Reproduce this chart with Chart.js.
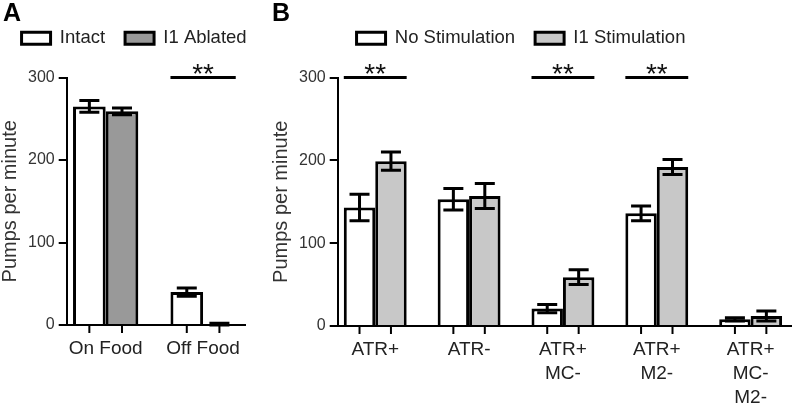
<!DOCTYPE html>
<html>
<head>
<meta charset="utf-8">
<script src="https://cdn.jsdelivr.net/npm/chart.js@4.4.1/dist/chart.umd.min.js"></script>
<style>
    body {margin: 0; background: #fff; width: 800px; height: 403px; position: relative; overflow: hidden; font-family: "Liberation Sans", Arial, sans-serif;}
    .panel {position: absolute; top: 0; height: 403px;}
    #panelA {left: 0; width: 250px;}
    #panelB {left: 271px; width: 529px;}
    .letter {position: absolute; top: 0; font-size: 25px; font-weight: bold; line-height: 1; color: #000;}
</style>
</head>
<body>
<div class="panel" id="panelA"><canvas id="chartA"></canvas></div>
<div class="panel" id="panelB"><canvas id="chartB"></canvas></div>
<div class="letter" style="left:3px">A</div>
<div class="letter" style="left:272px">B</div>
<script>
// panel A
const foodCategories = ['On Food', 'Off Food'];
const intactMeans = [265, 40];
const intactErrors = [7, 5];
const ablatedMeans = [259, 1];
const ablatedErrors = [4, 1];
const foodSignificant = [1];

// panel B
const stimCategories = ['ATR+', 'ATR-', ['ATR+', 'MC-'], ['ATR+', 'M2-'], ['ATR+', 'MC-', 'M2-']];
const noStimMeans = [143, 153, 21, 136, 8];
const noStimErrors = [16, 13, 5, 9, 2];
const stimMeans = [199, 157, 59, 192, 12];
const stimErrors = [11, 15, 9, 9, 6];
const stimSignificant = [0, 2, 3];

const yTicks = [0, 100, 200, 300];
const sigLevel = 300;

const FONT = '"Liberation Sans", Arial, sans-serif';

const toPoints = values => values.map((y, x) => ({x, y}));

// error bars, tick marks under each bar, significance lines
const barExtras = {
    id: 'barExtras',
    afterDatasetsDraw(chart) {
        const {ctx, chartArea, scales: {y}} = chart;
        ctx.save();
        ctx.strokeStyle = '#000';
        chart.data.datasets.forEach((ds, i) => {
            chart.getDatasetMeta(i).data.forEach((bar, j) => {
                const v = ds.data[j].y;
                const err = ds.errors[j];
                const top = y.getPixelForValue(v + err);
                const bottom = y.getPixelForValue(Math.max(v - err, 0));
                ctx.lineWidth = 3;
                ctx.beginPath();
                ctx.moveTo(bar.x, top);
                ctx.lineTo(bar.x, bottom);
                ctx.moveTo(bar.x - 10, top);
                ctx.lineTo(bar.x + 10, top);
                ctx.moveTo(bar.x - 10, bottom);
                ctx.lineTo(bar.x + 10, bottom);
                ctx.stroke();

                ctx.lineWidth = 2;
                ctx.beginPath();
                ctx.moveTo(bar.x, chartArea.bottom);
                ctx.lineTo(bar.x, chartArea.bottom + 8);
                ctx.stroke();
            });
        });

        const sig = chart.options.plugins.barExtras.significant || [];
        const m0 = chart.getDatasetMeta(0).data;
        const m1 = chart.getDatasetMeta(1).data;
        const ly = y.getPixelForValue(sigLevel);
        sig.forEach(k => {
            const left = m0[k].x - m0[k].width / 2;
            const right = m1[k].x + m1[k].width / 2;
            ctx.lineWidth = 3;
            ctx.beginPath();
            ctx.moveTo(left, ly);
            ctx.lineTo(right, ly);
            ctx.stroke();
            ctx.fillStyle = '#111';
            ctx.font = '28px ' + FONT;
            ctx.textAlign = 'center';
            ctx.textBaseline = 'alphabetic';
            ctx.fillText('**', (left + right) / 2, ly + 5);
        });
        ctx.restore();
    }
};

// legend: one row, extra room below it, nudged sideways like the figure
const legendTweak = {
    id: 'legendTweak',
    beforeLayout(chart, args, opts) {
        const lg = chart.legend;
        if (!lg || lg._tweaked) return;
        const fit = lg.fit.bind(lg);
        lg.fit = function () {
            this.maxWidth += opts.extraWidth;
            fit();
            this.height += opts.extraHeight;
        };
        lg._tweaked = true;
    },
    afterLayout(chart, args, opts) {
        const lg = chart.legend;
        if (!lg) return;
        // widen to the right so nothing wraps, keep the row start moved by dx
        lg.right += opts.extraWidth;
        lg.left += 2 * opts.dx - opts.extraWidth;
    }
};

const makeChart = (canvasId, categories, sets, significant, dx, padding, xTrim) => {
    const n = categories.length;
    return new Chart(document.getElementById(canvasId), {
        type: 'bar',
        data: {
            datasets: sets.map(s => ({
                label: s.label,
                data: toPoints(s.means),
                errors: s.errors,
                backgroundColor: s.color,
                borderColor: '#000',
                borderWidth: 3,
                borderSkipped: 'bottom',
                categoryPercentage: 0.67,
                barPercentage: 1
            }))
        },
        options: {
            responsive: true,
            maintainAspectRatio: false,
            animation: false,
            layout: {padding},
            plugins: {
                legend: {
                    position: 'top',
                    labels: {
                        boxWidth: 29,
                        boxHeight: 12,
                        padding: 20,
                        color: '#222',
                        font: {family: FONT, size: 18.5}
                    }
                },
                tooltip: {enabled: false},
                barExtras: {significant},
                legendTweak: {dx, extraWidth: 40, extraHeight: 20}
            },
            scales: {
                x: {
                    type: 'linear',
                    min: -0.4,
                    max: n - 1 + 0.43,
                    offset: false,
                    afterBuildTicks: axis => {
                        axis.ticks = categories.map((c, i) => ({value: i}));
                    },
                    afterFit: axis => {
                        axis.height -= xTrim;
                    },
                    ticks: {
                        callback: value => categories[value],
                        color: '#222',
                        font: {family: FONT, size: 19, lineHeight: '24px'},
                        padding: 4,
                        maxRotation: 0,
                        autoSkip: false
                    },
                    grid: {drawOnChartArea: false, color: 'rgba(0,0,0,0)', tickLength: 8},
                    border: {color: '#000', width: 2}
                },
                y: {
                    min: 0,
                    max: 300,
                    afterBuildTicks: axis => {
                        axis.ticks = yTicks.map(value => ({value}));
                    },
                    ticks: {color: '#333', font: {family: FONT, size: 16}, padding: 4},
                    grid: {drawOnChartArea: false, color: '#000', lineWidth: 2, tickLength: 8},
                    border: {color: '#000', width: 2},
                    title: {
                        display: true,
                        text: 'Pumps per minute',
                        color: '#333',
                        font: {family: FONT, size: 20, lineHeight: 1},
                        padding: {top: 0, bottom: 4}
                    }
                }
            }
        },
        plugins: [barExtras, legendTweak]
    });
};

makeChart('chartA', foodCategories, [
    {label: 'Intact', means: intactMeans, errors: intactErrors, color: '#ffffff'},
    {label: 'I1 Ablated', means: ablatedMeans, errors: ablatedErrors, color: '#999999'}
], foodSignificant, 11.6, {top: 9, right: 5, bottom: 38, left: 0}, 0);

makeChart('chartB', stimCategories, [
    {label: 'No Stimulation', means: noStimMeans, errors: noStimErrors, color: '#ffffff'},
    {label: 'I1 Stimulation', means: stimMeans, errors: stimErrors, color: '#c8c8c8'}
], stimSignificant, -10, {top: 9, right: 9, bottom: 0, left: 0}, 11);
</script>
</body>
</html>
